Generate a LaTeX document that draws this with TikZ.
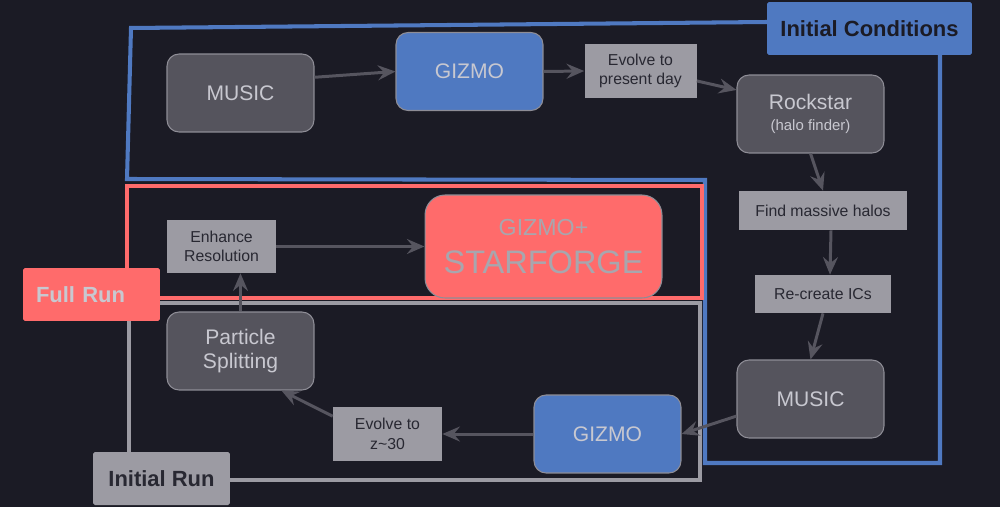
\documentclass[tikz,border=0pt]{standalone}
\usepackage{fontspec}
\setmainfont{Liberation Sans}
\usetikzlibrary{arrows.meta}
\definecolor{bgnavy}{RGB}{27,27,37}
\definecolor{icblue}{RGB}{79,121,193}
\definecolor{redfill}{RGB}{255,107,107}
\definecolor{nodegrey}{RGB}{85,84,93}
\definecolor{edgegrey}{RGB}{142,141,150}
\definecolor{boxgrey}{RGB}{156,155,163}
\definecolor{arrowgrey}{RGB}{86,85,95}
\definecolor{lighttext}{RGB}{200,200,208}
\definecolor{darktext}{RGB}{40,40,50}
\definecolor{forgetext}{RGB}{168,166,174}
\tikzset{darkbox/.style = {rectangle, rounded corners = 0.24cm, fill = nodegrey, draw = edgegrey, line width = 0.6pt, minimum width = 2.94cm, minimum height = 1.56cm, inner sep = 0, align = center, text = lighttext, font = \fontsize{12}{14}\selectfont},
	bluebox/.style = {darkbox, fill = icblue},
	greybox/.style = {rectangle, fill = boxgrey, inner sep = 0, align = center, text = darktext, font = \fontsize{9}{11}\selectfont},
	tagbox/.style = {rectangle, rounded corners = 1pt, minimum width = 2.74cm, minimum height = 1.06cm, inner sep = 0, font = \bfseries\fontsize{12.5}{14}\selectfont},
	boxline/.style = {line width = 2.3pt},
	pre/.style = {-{Stealth[length = 10pt, width = 8.5pt, inset = 3.5pt]}, line width = 1.7pt, draw = arrowgrey}}

\begin{document}
\begin{tikzpicture}[x = 0.02cm, y = -0.02cm]

 \useasboundingbox (0,0) rectangle (1000,507);
 \fill [bgnavy] (0,0) rectangle (1000,507);

 % outlines of the three stages
 \draw [boxline, draw = icblue] (767,22) -- (131,28) -- (127,179) -- (705,180) -- (705,463) -- (940,463) -- (940,55);
 \draw [boxline, draw = redfill] (127,186) rectangle (702,298);
 \draw [boxline, draw = boxgrey] (129,452) -- (129,303) -- (700,303) -- (700,480) -- (230,480);

 \node (icLabel) at (869.5,28.5) [tagbox, fill = icblue, minimum width = 4.1cm, text = bgnavy] {Initial Conditions};
 \node (fullLabel) at (91.5,294.5) [tagbox, fill = redfill, text = lighttext, inner xsep = 0.26cm, text width = 2.22cm, align = left] {Full Run};
 \node (initLabel) at (161.5,478.5) [tagbox, fill = boxgrey, text = darktext] {Initial Run};

 \node (music1) at (240.5,93) [darkbox] {MUSIC};
 \node (gizmo1) at (469.5,71.5) [bluebox] {GIZMO};
 \node (evolve1) at (640.5,71) [greybox, minimum width = 2.24cm, minimum height = 1.08cm] {Evolve to\\present day};
 \node (rockstar) at (810.5,114) [darkbox] {Rockstar\\[-2pt]{\fontsize{8.5}{10}\selectfont (halo finder)}};
 \node (find) at (823,210.5) [greybox, minimum width = 3.36cm, minimum height = 0.78cm] {Find massive halos};
 \node (recreate) at (823,294) [greybox, minimum width = 2.72cm, minimum height = 0.76cm] {Re-create ICs};
 \node (music2) at (810.5,399) [darkbox] {MUSIC};
 \node (gizmo2) at (607.5,434) [bluebox] {GIZMO};
 \node (evolve2) at (387.5,434) [greybox, minimum width = 2.18cm, minimum height = 1.08cm] {Evolve to\\z\textasciitilde30};
 \node (particle) at (240.5,351) [darkbox] {Particle\\Splitting};
 \node (enhance) at (221.5,246.5) [greybox, minimum width = 2.18cm, minimum height = 1.06cm] {Enhance\\Resolution};
 \node (starforge) at (543.5,246.5) [darkbox, fill = redfill, rounded corners = 0.4cm, minimum width = 4.74cm, minimum height = 2.06cm, text = forgetext, font = \fontsize{18.5}{22}\selectfont] {{\fontsize{13.2}{15}\selectfont GIZMO+}\\STARFORGE};

 \draw [pre] (music1.12) -- (gizmo1.west);
 \draw [pre] (gizmo1.east) -- (evolve1.west);
 \draw [pre] (evolve1.-10) -- (rockstar.162);
 \draw [pre] (rockstar.south) -- (find.north);
 \draw [pre] ([xshift = 0.16cm]find.south) -- ([xshift = 0.14cm]recreate.north);
 \draw [pre] (recreate.south) -- (music2.north);
 \draw [pre] (music2.193) -- (gizmo2.east);
 \draw [pre] (gizmo2.west) -- (evolve2.east);
 \draw [pre] (evolve2.162) -- (particle.-44);
 \draw [pre] (particle.north) -- (particle.north |- enhance.south);
 \draw [pre] (enhance.east) -- (starforge.west);

\end{tikzpicture}
\end{document}
